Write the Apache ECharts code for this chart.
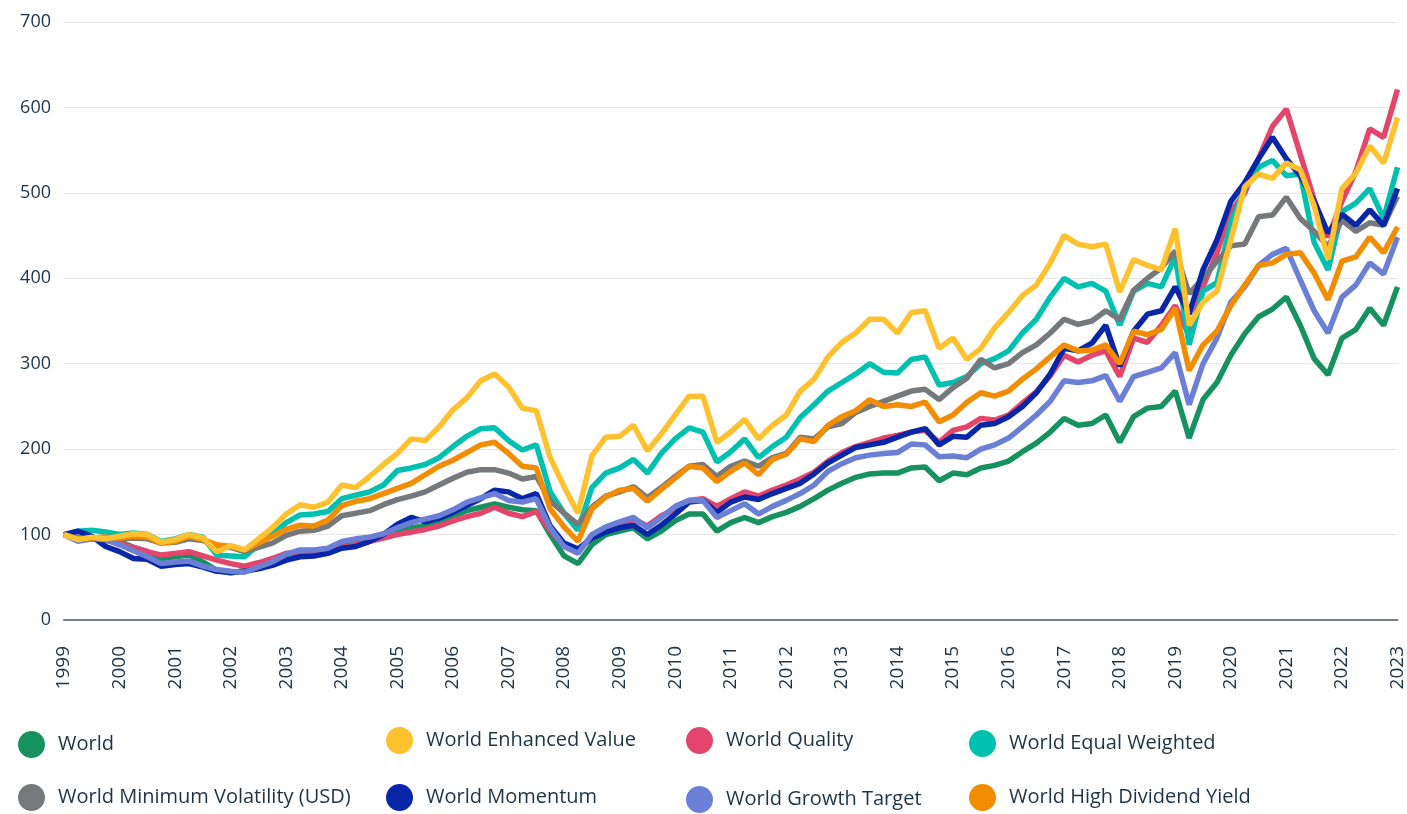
<!DOCTYPE html>
<html>
<head>
<meta charset="utf-8">
<script src="https://cdn.jsdelivr.net/npm/echarts@6/dist/echarts.min.js"></script>
<style>
  html, body { margin: 0; padding: 0; background: #fff; }
  #chart { width: 1407px; height: 814px; }
</style>
</head>
<body>
<div id="chart"></div>
<script>
// quarterly points, 1999 .. 2023 (index rebased to 100)
const quarters = [];
for (let i = 0; i <= 96; i++) quarters.push(1999 + i / 4);

const world = [
  100, 94, 96, 95, 92, 85, 80, 72, 74, 76, 68, 58, 55, 58, 64, 68,
  74, 78, 79, 82, 86, 89, 92, 97, 103, 108, 110, 116, 122, 128, 132, 136,
  132, 129, 128, 100, 75, 66, 88, 100, 104, 108, 95, 104, 116, 124, 124, 104,
  114, 120, 114, 121, 126, 133, 142, 152, 160, 167, 171, 172, 172, 178, 179, 163,
  172, 170, 178, 181, 186, 197, 207, 220, 236, 228, 230, 240, 208, 238, 248, 250,
  268, 213, 258, 278, 310, 335, 355, 364, 378, 345, 306, 287, 330, 340, 365, 345,
  390
];
const enhancedValue = [
  100, 94, 97, 95, 98, 101, 100, 91, 94, 100, 96, 80, 87, 82, 95, 108,
  124, 135, 132, 138, 158, 155, 168, 182, 195, 212, 210, 226, 246, 260, 280, 288,
  273, 248, 245, 190, 156, 125, 192, 214, 215, 228, 198, 218, 240, 262, 262, 208,
  220, 235, 212, 228, 240, 268, 282, 308, 325, 336, 352, 352, 336, 360, 362, 318,
  330, 305, 318, 342, 360, 380, 392, 418, 450, 440, 437, 440, 384, 422, 415, 410,
  458, 345, 372, 385, 445, 507, 522, 517, 535, 527, 485, 422, 505, 523, 555, 535,
  588
];
const quality = [
  100, 93, 95, 93, 90, 85, 80, 76, 78, 80, 75, 70, 66, 63, 67, 72,
  78, 79, 79, 82, 85, 88, 92, 96, 100, 103, 106, 110, 116, 121, 125, 132,
  125, 121, 127, 105, 88, 80, 98, 107, 112, 118, 110, 122, 130, 140, 142, 133,
  142, 150, 145, 152, 158, 165, 173, 186, 196, 203, 208, 213, 216, 220, 222, 208,
  222, 226, 236, 234, 240, 254, 267, 286, 310, 302, 310, 315, 285, 330, 325, 345,
  368, 333, 390, 430, 478, 500, 540, 578, 598, 545, 492, 448, 490, 525, 575, 565,
  621
];
const equalWeighted = [
  100, 104, 105, 103, 100, 102, 100, 92, 95, 100, 97, 76, 75, 74, 88, 100,
  114, 123, 124, 127, 142, 146, 150, 158, 175, 178, 182, 190, 203, 215, 224, 225,
  210, 199, 205, 150, 125, 105, 155, 172, 178, 188, 172, 195, 212, 225, 220, 185,
  197, 212, 190, 203, 214, 237, 252, 268, 278, 288, 300, 290, 289, 305, 308, 275,
  278, 285, 300, 306, 315, 336, 352, 378, 400, 390, 394, 385, 345, 385, 394, 390,
  425, 322, 385, 395, 465, 505, 530, 538, 520, 522, 442, 410, 478, 488, 505, 470,
  530
];
const minVolatility = [
  100, 97, 96, 97, 95, 96, 95, 90, 91, 95, 93, 86, 85, 80, 85, 90,
  99, 104, 105, 110, 122, 125, 128, 135, 141, 145, 150, 158, 166, 173, 176, 176,
  172, 165, 168, 140, 125, 112, 132, 145, 150, 156, 143, 155, 168, 180, 182, 168,
  180, 186, 180, 190, 195, 214, 212, 226, 230, 243, 250, 256, 262, 268, 270, 258,
  272, 283, 305, 295, 300, 313, 322, 336, 352, 346, 350, 362, 352, 386, 400, 412,
  432, 382, 400, 420, 438, 440, 472, 474, 495, 470, 455, 437, 468, 455, 465, 462,
  496
];
const momentum = [
  100, 104, 98, 86, 80, 72, 71, 63, 65, 66, 62, 57, 56, 57, 60, 64,
  70, 74, 75, 78, 84, 86, 92, 100, 112, 120, 115, 119, 126, 134, 142, 152,
  150, 142, 148, 110, 90, 83, 96, 103, 108, 111, 100, 111, 124, 138, 140, 126,
  138, 144, 141, 148, 154, 160, 171, 184, 193, 202, 205, 208, 214, 220, 224, 205,
  215, 214, 228, 230, 238, 250, 266, 288, 318, 315, 324, 345, 297, 338, 358, 362,
  390, 358, 410, 445, 490, 512, 540, 565, 540, 520, 490, 453, 475, 462, 480, 462,
  505
];
const growthTarget = [
  100, 92, 95, 94, 88, 81, 74, 66, 68, 69, 63, 59, 57, 56, 62, 68,
  77, 82, 82, 84, 92, 95, 97, 101, 108, 114, 118, 122, 129, 138, 143, 148,
  140, 138, 142, 108, 86, 78, 100, 109, 115, 120, 108, 120, 133, 140, 140, 120,
  128, 136, 124, 133, 140, 148, 158, 174, 183, 190, 193, 195, 196, 206, 205, 191,
  192, 190, 200, 205, 213, 226, 240, 256, 280, 278, 280, 286, 256, 285, 290, 295,
  313, 252, 300, 330, 372, 390, 415, 428, 435, 398, 362, 336, 378, 392, 418, 405,
  448
];
const highDividend = [
  100, 95, 96, 97, 96, 98, 97, 90, 92, 98, 94, 88, 86, 82, 90, 98,
  106, 111, 110, 117, 134, 139, 142, 148, 154, 160, 170, 180, 187, 196, 205, 208,
  195, 180, 178, 130, 109, 92, 130, 144, 152, 154, 139, 153, 166, 180, 178, 162,
  174, 184, 170, 188, 194, 212, 209, 228, 238, 245, 258, 250, 252, 250, 255, 232,
  240, 255, 266, 262, 268, 282, 294, 308, 322, 315, 316, 322, 300, 338, 334, 340,
  365, 292, 322, 338, 368, 392, 415, 418, 428, 430, 406, 375, 420, 425, 448, 430,
  460
];

// drawing order (bottom -> top)
const seriesList = [
  { name: "World", data: world, color: "#169160" },
  { name: "World Quality", data: quality, color: "#e4456a" },
  { name: "World Equal Weighted", data: equalWeighted, color: "#00c1b0" },
  { name: "World Minimum Volatility (USD)", data: minVolatility, color: "#76797c" },
  { name: "World Momentum", data: momentum, color: "#0827a8" },
  { name: "World Growth Target", data: growthTarget, color: "#6b7fd7" },
  { name: "World High Dividend Yield", data: highDividend, color: "#f28c00" },
  { name: "World Enhanced Value", data: enhancedValue, color: "#ffc12e" },
];

// legend grid: two rows, four fixed columns (icon left, icon top)
const legendSlots = [
  ["World", 18, 731],
  ["World Enhanced Value", 386, 727],
  ["World Quality", 686, 727],
  ["World Equal Weighted", 969, 730],
  ["World Minimum Volatility (USD)", 18, 784],
  ["World Momentum", 386, 784],
  ["World Growth Target", 686, 786],
  ["World High Dividend Yield", 969, 784],
];

const textColor = "#1c3347";
const chart = echarts.init(document.getElementById("chart"));

const option = {
  animation: false,
  textStyle: { fontFamily: "'Open Sans', Roboto, sans-serif" },
  grid: { left: 64, right: 9, top: 22, bottom: 194, containLabel: false },
  legend: legendSlots.map(([name, x, y]) => ({
    data: [name],
    left: x,
    top: y,
    padding: 0,
    icon: "circle",
    itemWidth: 27,
    itemHeight: 27,
    textStyle: { fontSize: 20, color: textColor, padding: [0, 0, 0, 8] },
  })),
  xAxis: {
    type: "value",
    min: 1999,
    max: 2023,
    interval: 1,
    axisLine: { show: true, lineStyle: { color: "#7a7f85", width: 2 } },
    axisTick: { show: false },
    splitLine: { show: false },
    axisLabel: {
      rotate: 90,
      margin: 26,
      fontSize: 19,
      color: textColor,
      formatter: (v) => String(v),
    },
  },
  yAxis: {
    type: "value",
    min: 0,
    max: 700,
    interval: 100,
    axisLine: { show: false },
    axisTick: { show: false },
    axisLabel: { fontSize: 18, color: textColor, margin: 13 },
    splitLine: { lineStyle: { color: "#e6e6e6" } },
  },
  series: seriesList.map((s) => ({
    name: s.name,
    type: "line",
    showSymbol: false,
    color: s.color,
    lineStyle: { width: 5.5, color: s.color },
    data: quarters.map((q, i) => [q, s.data[i]]),
  })),
};

chart.setOption(option);
</script>
</body>
</html>
